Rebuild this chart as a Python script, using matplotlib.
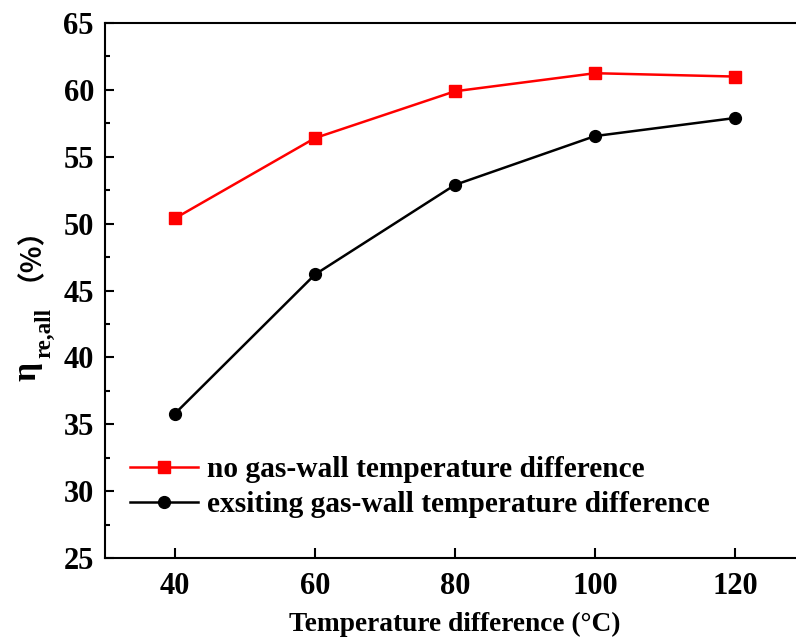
import matplotlib
matplotlib.use("Agg")
import matplotlib.pyplot as plt
from matplotlib.ticker import MultipleLocator

# temperature difference (°C)
temp_diff = [40, 60, 80, 100, 120]
# eta_re,all (%) without gas-wall temperature difference
eta_no_diff = [50.4, 56.4, 59.9, 61.25, 61.0]
# eta_re,all (%) with existing gas-wall temperature difference
eta_with_diff = [35.8, 46.2, 52.9, 56.55, 57.9]

label_no = "no gas-wall temperature difference"
label_with = "exsiting gas-wall temperature difference"

plt.rcParams['font.family'] = ['Liberation Serif', 'Noto Sans CJK SC']
plt.rcParams['font.weight'] = 'bold'

W, H = 796, 644
fig = plt.figure(figsize=(W / 100, H / 100), dpi=100)
# axes runs off the right edge like the cropped original
ax = fig.add_axes([0.1319, 0.1335, 0.8794, 0.8307])

ax.plot(temp_diff, eta_no_diff, color='#ff0000', marker='s', markersize=8,
        linewidth=1.8, label=label_no)
ax.plot(temp_diff, eta_with_diff, color='black', marker='o', markersize=8.5,
        linewidth=1.8, label=label_with)

ax.set_xlim(30, 130)
ax.set_ylim(25, 65)
ax.xaxis.set_major_locator(MultipleLocator(20))
ax.yaxis.set_major_locator(MultipleLocator(5))
ax.yaxis.set_minor_locator(MultipleLocator(2.5))

for s in ax.spines.values():
    s.set_linewidth(1.5)
ax.tick_params(which='both', direction='in', width=1.5, labelsize=22)
ax.tick_params(axis='y', which='major', length=6.5, pad=8)
ax.tick_params(axis='y', which='minor', length=3.5)
ax.tick_params(axis='x', which='major', length=7, pad=10)
for lab in ax.get_xticklabels() + ax.get_yticklabels():
    lab.set_fontweight('bold')

ax.set_xlabel("Temperature difference (°C)", fontsize=19.7, fontweight='bold',
              labelpad=8)

# y label drawn in pieces: eta, its subscript, then the full-width (%)
rot = dict(rotation=90, rotation_mode='anchor')
fig.text(35 / W, 1 - 381 / H, "η", fontsize=24, ha='left', va='baseline', **rot)
fig.text(50 / W, 1 - 358 / H, "re,all", fontsize=16.5, ha='left',
         va='baseline', **rot)
fig.text(24 / W, 1 - 240 / H, "（%）", fontsize=20, ha='center', va='baseline',
         family=['Noto Sans CJK SC'], **rot)

ax.legend(loc='upper left', bbox_to_anchor=(0.0357, 0.191), frameon=False,
          prop={'family': 'Liberation Serif', 'weight': 'bold', 'size': 21.2},
          borderpad=0, borderaxespad=0,
          handlelength=2.3, handletextpad=0.3, labelspacing=0.29)

fig.savefig("out.png", dpi=100)
